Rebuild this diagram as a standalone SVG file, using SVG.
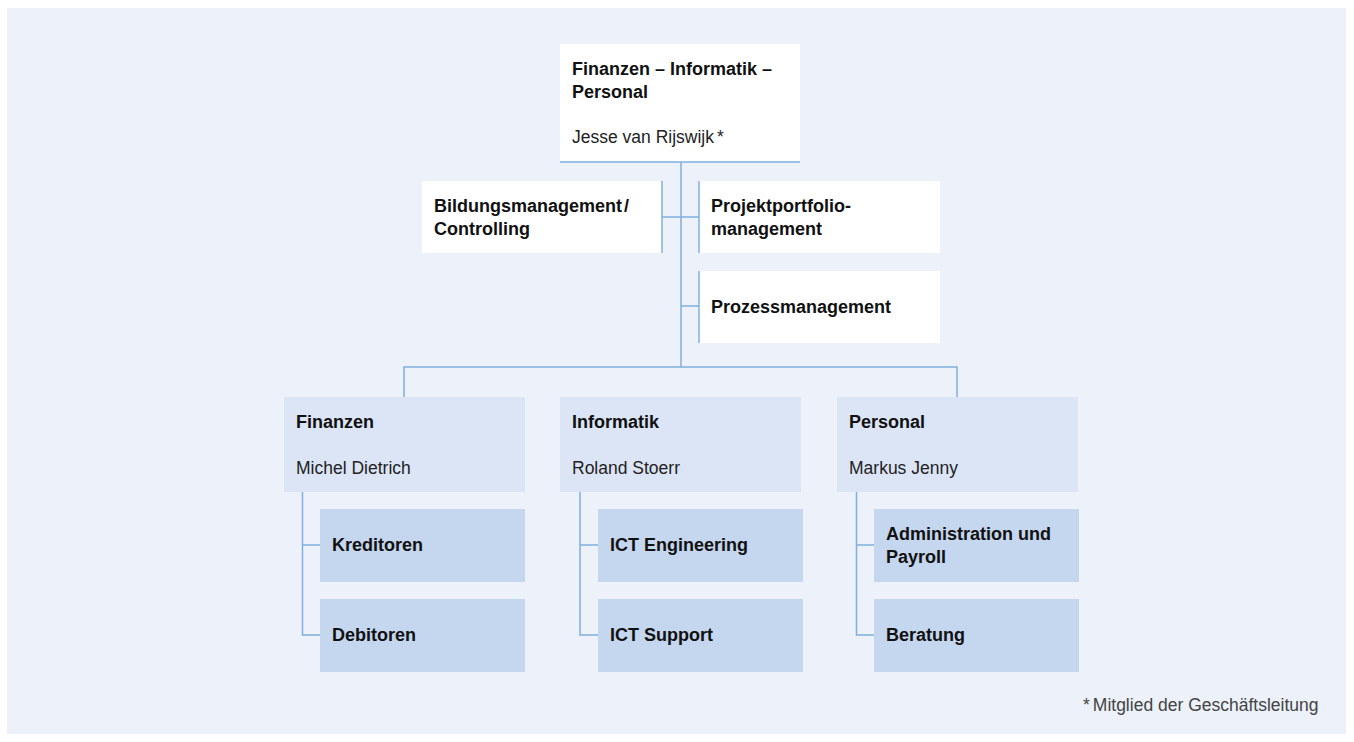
<svg xmlns="http://www.w3.org/2000/svg" width="1354" height="742" viewBox="0 0 1354 742">
<style>
.bg{fill:#ffffff}
.panel{fill:#ECF1FA}
.top{fill:#ffffff}
.mid{fill:#DCE5F6}
.sub{fill:#C5D6EF}
.ln{stroke:#7FB0DE;stroke-width:1.5;fill:none}
.b{font-family:"Liberation Sans",Arial,Helvetica,sans-serif;font-size:18px;font-weight:bold;fill:#111}
.n{font-family:"Liberation Sans",Arial,Helvetica,sans-serif;font-size:17.5px;fill:#222}
.f{font-family:"Liberation Sans",Arial,Helvetica,sans-serif;font-size:17.5px;fill:#444}
</style>
<rect class="bg" x="0" y="0" width="1354" height="742"/>
<rect class="panel" x="7" y="8" width="1339" height="726"/>
<g id="connectors">
<path class="ln" d="M681 162 V367"/>
<path class="ln" d="M404 397 V367 H957 V397"/>
<path class="ln" d="M662 217 H699"/>
<path class="ln" d="M681 306 H699"/>
<path class="ln" d="M302.5 492 V635 H320 M302.5 545 H320"/>
<path class="ln" d="M580 492 V635 H598 M580 545 H598"/>
<path class="ln" d="M856.5 492 V635 H874 M856.5 545 H874"/>
</g>
<g id="n-top">
<rect class="top" x="560" y="44" width="240" height="118"/>
<path class="ln" d="M560 162 H800"/>
<text class="b" x="572" y="75">Finanzen – Informatik –</text>
<text class="b" x="572" y="98">Personal</text>
<text class="n" x="572" y="143">Jesse van Rijswijk<tspan dx="3">*</tspan></text>
</g>
<g id="n-bildung">
<rect class="top" x="422" y="181" width="240" height="72"/>
<path class="ln" d="M662 181 V253"/>
<text class="b" x="434" y="212">Bildungsmanagement<tspan dx="2">/</tspan></text>
<text class="b" x="434" y="235">Controlling</text>
</g>
<g id="n-projekt">
<rect class="top" x="699" y="181" width="241" height="72"/>
<path class="ln" d="M699 181 V253"/>
<text class="b" x="711" y="212">Projektportfolio-</text>
<text class="b" x="711" y="235">management</text>
</g>
<g id="n-prozess">
<rect class="top" x="699" y="271" width="241" height="72"/>
<path class="ln" d="M699 271 V343"/>
<text class="b" x="711" y="313">Prozessmanagement</text>
</g>
<g id="n-finanzen">
<rect class="mid" x="284" y="397" width="241" height="95"/>
<text class="b" x="296" y="428">Finanzen</text>
<text class="n" x="296" y="474">Michel Dietrich</text>
</g>
<g id="n-informatik">
<rect class="mid" x="560" y="397" width="241" height="95"/>
<text class="b" x="572" y="428">Informatik</text>
<text class="n" x="572" y="474">Roland Stoerr</text>
</g>
<g id="n-personal">
<rect class="mid" x="837" y="397" width="241" height="95"/>
<text class="b" x="849" y="428">Personal</text>
<text class="n" x="849" y="474">Markus Jenny</text>
</g>
<g id="n-kreditoren">
<rect class="sub" x="320" y="509" width="205" height="73"/>
<text class="b" x="332" y="551">Kreditoren</text>
</g>
<g id="n-debitoren">
<rect class="sub" x="320" y="599" width="205" height="73"/>
<text class="b" x="332" y="641">Debitoren</text>
</g>
<g id="n-icteng">
<rect class="sub" x="598" y="509" width="205" height="73"/>
<text class="b" x="610" y="551">ICT Engineering</text>
</g>
<g id="n-ictsup">
<rect class="sub" x="598" y="599" width="205" height="73"/>
<text class="b" x="610" y="641">ICT Support</text>
</g>
<g id="n-admin">
<rect class="sub" x="874" y="509" width="205" height="73"/>
<text class="b" x="886" y="540">Administration und</text>
<text class="b" x="886" y="563">Payroll</text>
</g>
<g id="n-beratung">
<rect class="sub" x="874" y="599" width="205" height="73"/>
<text class="b" x="886" y="641">Beratung</text>
</g>
<g id="footnote">
<text class="f" x="1083" y="711">*<tspan dx="3">Mitglied der Geschäftsleitung</tspan></text>
</g>
</svg>
